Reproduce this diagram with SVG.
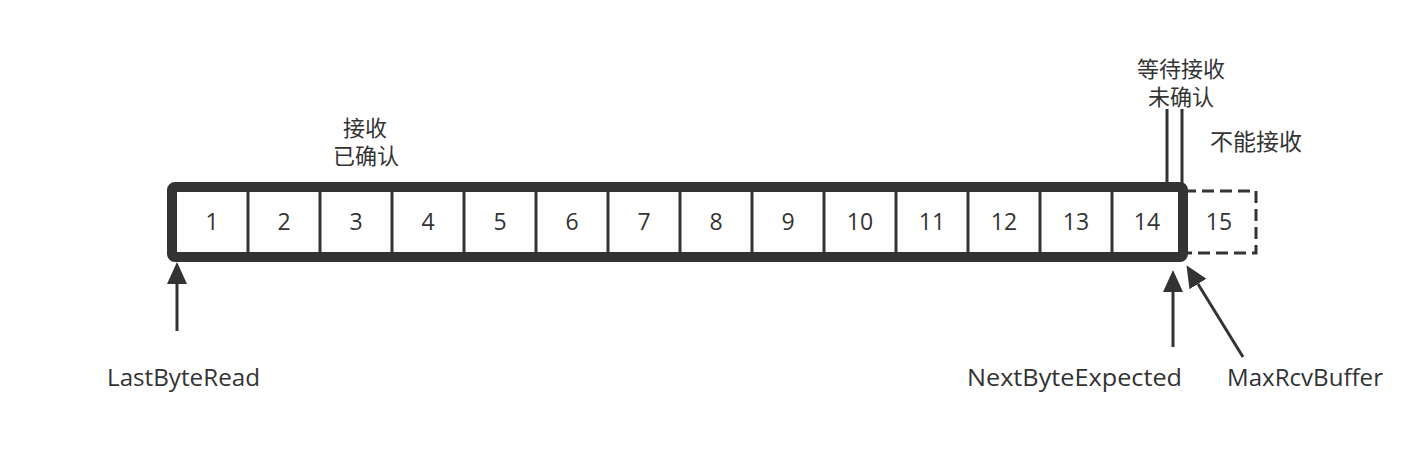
<svg xmlns="http://www.w3.org/2000/svg" width="1416" height="452" viewBox="0 0 1416 452">
<style>
.t{font-family:"Open Sans","Noto Sans CJK SC",sans-serif;font-size:23px;fill:#333}
.n{font-family:"Open Sans","Noto Sans CJK SC",sans-serif;font-size:23px;fill:#333;text-anchor:middle}
.z{font-family:"Liberation Sans","Noto Sans CJK SC",sans-serif;font-size:22px;fill:#333;text-anchor:middle}
.line{stroke:#333;stroke-width:3;fill:none}
</style>
<defs>
<marker id="ah" viewBox="0 0 22 20" refX="0" refY="10" markerWidth="22" markerHeight="20" markerUnits="userSpaceOnUse" orient="auto">
<path d="M0,0 L22,10 L0,20 Z" fill="#333"/>
</marker>
</defs>
<rect width="1416" height="452" fill="#fff"/>
<g id="cell15">
<rect x="1184" y="191" width="72" height="62" fill="none" stroke="#333" stroke-width="3" stroke-dasharray="12 6"/>
<text class="n" x="1219" y="230">15</text>
</g>
<g id="buffer">
<rect x="172" y="187" width="1011" height="70" fill="#fff" stroke="#333" stroke-width="10" rx="3"/>
<g class="line">
<line x1="248" y1="190" x2="248" y2="254"/><line x1="320" y1="190" x2="320" y2="254"/>
<line x1="392" y1="190" x2="392" y2="254"/><line x1="464" y1="190" x2="464" y2="254"/>
<line x1="536" y1="190" x2="536" y2="254"/><line x1="608" y1="190" x2="608" y2="254"/>
<line x1="680" y1="190" x2="680" y2="254"/><line x1="752" y1="190" x2="752" y2="254"/>
<line x1="824" y1="190" x2="824" y2="254"/><line x1="896" y1="190" x2="896" y2="254"/>
<line x1="968" y1="190" x2="968" y2="254"/><line x1="1040" y1="190" x2="1040" y2="254"/>
<line x1="1112" y1="190" x2="1112" y2="254"/>
</g>
<text class="n" x="212" y="230">1</text><text class="n" x="284" y="230">2</text>
<text class="n" x="356" y="230">3</text><text class="n" x="428" y="230">4</text>
<text class="n" x="500" y="230">5</text><text class="n" x="572" y="230">6</text>
<text class="n" x="644" y="230">7</text><text class="n" x="716" y="230">8</text>
<text class="n" x="788" y="230">9</text><text class="n" x="860" y="230">10</text>
<text class="n" x="932" y="230">11</text><text class="n" x="1004" y="230">12</text>
<text class="n" x="1076" y="230">13</text><text class="n" x="1147" y="230">14</text>
</g>
<g id="label-received">
<text class="z" x="365" y="136">接收</text>
<text class="z" x="366" y="164">已确认</text>
</g>
<g id="label-waiting">
<text class="z" x="1181" y="77">等待接收</text>
<text class="z" x="1181" y="105">未确认</text>
</g>
<g id="label-cannot">
<text class="t" x="1210" y="150">不能接收</text>
</g>
<g id="label-lastbyteread"><text class="t" x="107" y="386" textLength="153" lengthAdjust="spacingAndGlyphs">LastByteRead</text></g>
<g id="label-nextbyteexpected"><text class="t" x="967" y="386" textLength="215" lengthAdjust="spacingAndGlyphs">NextByteExpected</text></g>
<g id="label-maxrcvbuffer"><text class="t" x="1227" y="386" textLength="156" lengthAdjust="spacingAndGlyphs">MaxRcvBuffer</text></g>
<g id="connectors" class="line">
<line x1="1167" y1="109" x2="1167" y2="184"/>
<line x1="1182" y1="109" x2="1182" y2="184"/>
<line x1="177" y1="331" x2="177" y2="284" marker-end="url(#ah)"/>
<line x1="1173" y1="347" x2="1173" y2="292" marker-end="url(#ah)"/>
<line x1="1243" y1="357" x2="1198" y2="284" marker-end="url(#ah)"/>
</g>
</svg>
